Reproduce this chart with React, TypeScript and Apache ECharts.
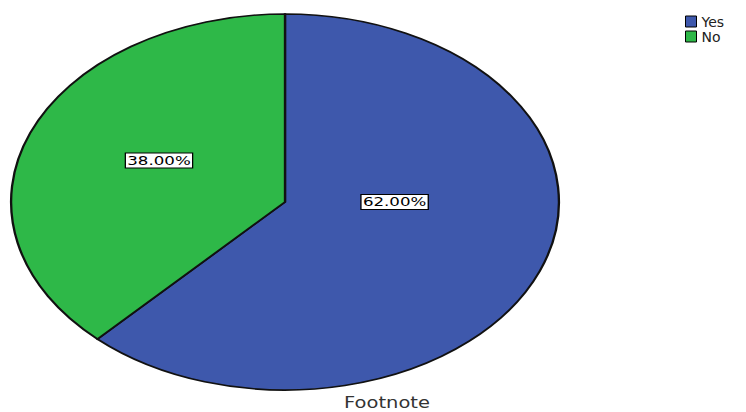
import React, { useEffect, useRef } from "react";
import * as echarts from "echarts";

const categories = ["Yes", "No"];
const percentages = [62.0, 38.0];
const colors = ["#3E58AC", "#2EB848"];
const chartTitle = "Footnote";

export default function App() {
  const ref = useRef<HTMLDivElement>(null);

  useEffect(() => {
    if (!ref.current) return;
    const chart = echarts.init(ref.current, undefined, { renderer: "svg" });
    const total = percentages.reduce((a, b) => a + b, 0);
    const starts: number[] = [];
    let acc = 0;
    percentages.forEach((v) => {
      starts.push(acc);
      acc += v;
    });

    const cx = 285;
    const cy = 202;
    const rx = 274;
    const ry = 188;

    const series = categories.map((name, i) => ({
      type: "custom",
      name,
      coordinateSystem: "none",
      itemStyle: { color: colors[i], borderColor: "#000", borderWidth: 1 },
      data: [[percentages[i], starts[i]]],
      renderItem: (params: any, api: any) => {
        const value = api.value(0);
        const startVal = api.value(1);
        const start = -Math.PI / 2 + (startVal / total) * Math.PI * 2;
        const end = start + (value / total) * Math.PI * 2;
        const span = end - start;
        const labelAngle = span <= Math.PI ? (start + end) / 2 + 0.07 : start + Math.PI / 2;
        const f = span <= Math.PI ? 0.51 : 0.4;
        const lx = cx + Math.cos(labelAngle) * rx * f;
        const ly = cy + Math.sin(labelAngle) * ry * f;
        return {
          type: "group",
          children: [
            {
              type: "group",
              x: cx,
              y: cy,
              scaleX: rx / ry,
              scaleY: 1,
              children: [
                {
                  type: "sector",
                  shape: { cx: 0, cy: 0, r0: 0, r: ry, startAngle: start, endAngle: end, clockwise: true },
                  style: { fill: colors[i], stroke: "#111", lineWidth: 1.6, strokeNoScale: true },
                },
              ],
            },
            {
              type: "text",
              x: lx,
              y: ly,
              scaleX: 1.28,
              z2: 10,
              style: {
                text: value.toFixed(2) + "%",
                font: "13px 'DejaVu Sans'",
                fill: "#000",
                align: "center",
                verticalAlign: "middle",
                backgroundColor: "#fff",
                borderColor: "#000",
                borderWidth: 1,
                padding: [1, 1, 0, 1],
              },
            },
          ],
        };
      },
    }));

    chart.setOption({
      animation: false,
      backgroundColor: "#fff",
      legend: {
        orient: "vertical",
        left: 685,
        top: 14,
        padding: 0,
        itemWidth: 11,
        itemHeight: 11,
        itemGap: 0,
        icon: "rect",
        itemStyle: { borderColor: "#000", borderWidth: 1 },
        textStyle: { fontFamily: "DejaVu Sans", fontSize: 14, lineHeight: 15, color: "#222" },
        data: categories,
      },
      graphic: [
        {
          type: "text",
          x: 387,
          y: 403,
          scaleX: 1.3,
          style: {
            text: chartTitle,
            font: "15px 'DejaVu Sans'",
            fill: "#333",
            align: "center",
            verticalAlign: "middle",
          },
        },
      ],
      series,
    });
    return () => chart.dispose();
  }, []);

  return (
    <div
      ref={ref}
      style={{ position: "fixed", left: 0, top: 0, width: 746, height: 412 }}
    />
  );
}
